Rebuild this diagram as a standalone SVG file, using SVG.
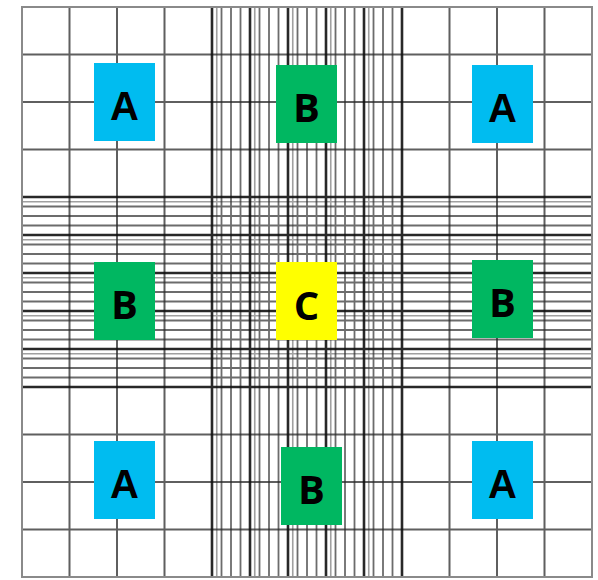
<svg xmlns="http://www.w3.org/2000/svg" width="598" height="580" viewBox="0 0 598 580">
<style>
.grid{stroke:#2a2a2a;stroke-width:2;stroke-opacity:0.75;fill:none}
.border{stroke:#8a8a8a;stroke-width:2;fill:none}
.thick{stroke:#111;stroke-width:2.6;stroke-opacity:0.9;fill:none}
.sub{stroke:#2e2e2e;stroke-width:1.8;stroke-opacity:0.7;fill:none}
.comp{stroke:#606060;stroke-width:1.6;stroke-opacity:0.6;fill:none}
.lbl{font-weight:bold;font-size:40px;text-anchor:middle;fill:#000}
.a{fill:#00bcf0}.b{fill:#00b761}.c{fill:#ffff00}
.fa{font-family:"Liberation Sans",Arial,sans-serif}
.fb{font-family:"Open Sans","Liberation Sans",sans-serif}
</style>
<rect width="598" height="580" fill="#fff"/>
<g id="grid">
<path class="comp" d="M216.75 7V577M254.75 7V577M292.75 7V577M330.75 7V577M368.75 7V577M22 201.75H592M22 239.75H592M22 277.75H592M22 315.75H592M22 353.75H592"/>
<path class="sub" d="M221.5 7V577M231 7V577M240.5 7V577M259.5 7V577M269 7V577M278.5 7V577M297.5 7V577M307 7V577M316.5 7V577M335.5 7V577M345 7V577M354.5 7V577M373.5 7V577M383 7V577M392.5 7V577M22 206.5H592M22 216H592M22 225.5H592M22 244.5H592M22 254H592M22 263.5H592M22 282.5H592M22 292H592M22 301.5H592M22 320.5H592M22 330H592M22 339.5H592M22 358.5H592M22 368H592M22 377.5H592"/>
<path class="grid" d="M69.5 7V577M117 7V577M164.5 7V577M449.5 7V577M497 7V577M544.5 7V577M22 54.5H592M22 102H592M22 149.5H592M22 434.5H592M22 482H592M22 529.5H592"/>
<path class="thick" d="M212 7V577M250 7V577M288 7V577M326 7V577M364 7V577M402 7V577M22 197H592M22 235H592M22 273H592M22 311H592M22 349H592M22 387H592"/>
<rect class="border" x="22" y="7" width="570" height="570"/>
</g>
<g id="connectors"></g>
<g id="A1"><rect class="a" x="94" y="63" width="61" height="78"/><text class="lbl fa" x="124.5" y="120">A</text></g>
<g id="B1"><rect class="b" x="276" y="65" width="61" height="78"/><text class="lbl fb" x="306.5" y="122">B</text></g>
<g id="A2"><rect class="a" x="472" y="65" width="61" height="78"/><text class="lbl fa" x="502.5" y="122">A</text></g>
<g id="B2"><rect class="b" x="94" y="262" width="61" height="78"/><text class="lbl fb" x="124.5" y="319">B</text></g>
<g id="C"><rect class="c" x="276" y="262" width="61" height="78"/><text class="lbl fb" x="306.5" y="320">C</text></g>
<g id="B3"><rect class="b" x="472" y="260" width="61" height="78"/><text class="lbl fb" x="502.5" y="317">B</text></g>
<g id="A3"><rect class="a" x="94" y="441" width="61" height="78"/><text class="lbl fa" x="124.5" y="498">A</text></g>
<g id="B4"><rect class="b" x="281" y="447" width="61" height="78"/><text class="lbl fb" x="311.5" y="504">B</text></g>
<g id="A4"><rect class="a" x="472" y="441" width="61" height="78"/><text class="lbl fa" x="502.5" y="498">A</text></g>
</svg>
